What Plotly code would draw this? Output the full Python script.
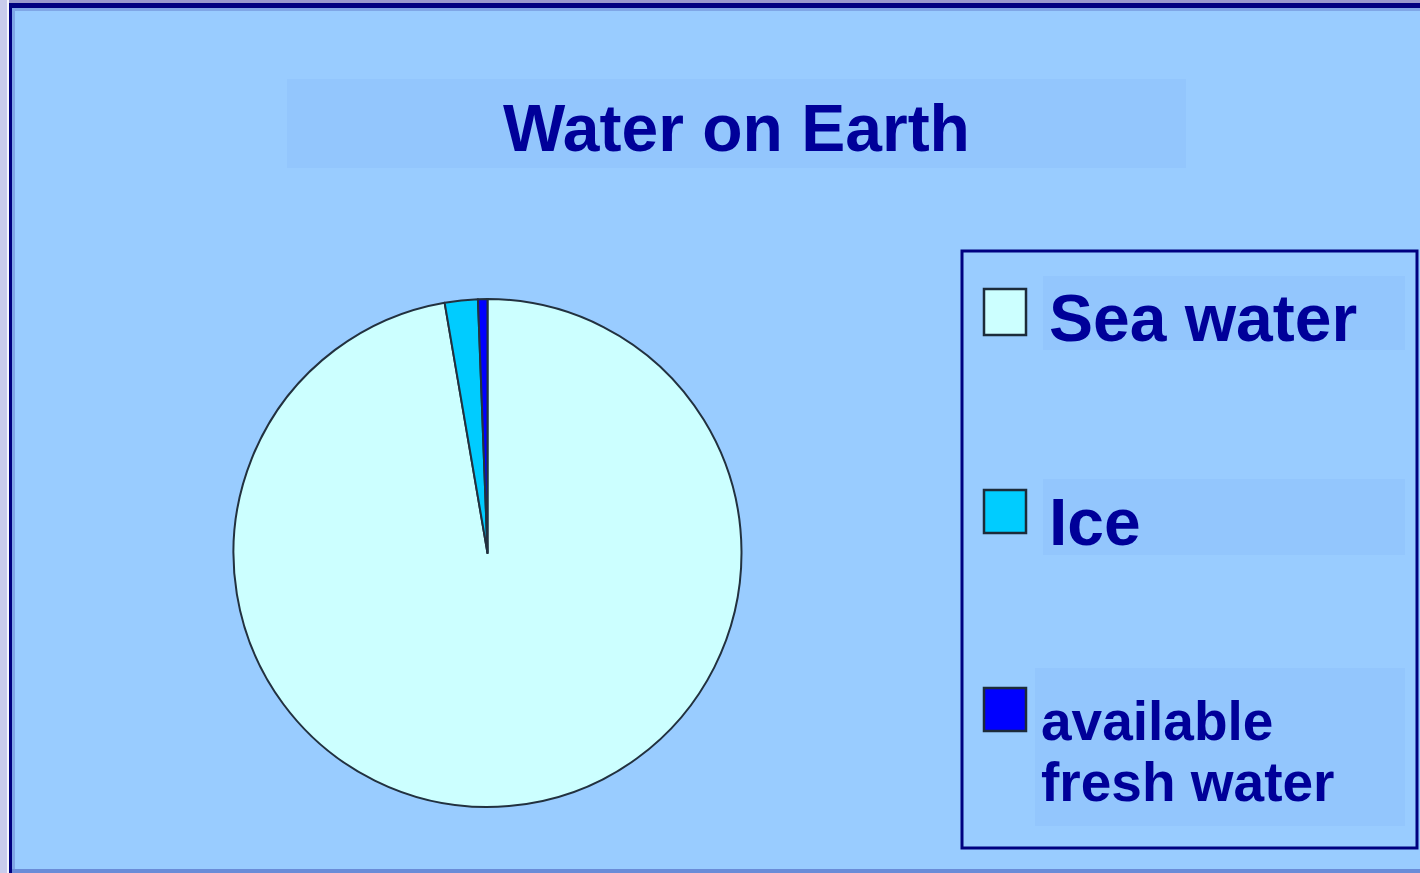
import plotly.graph_objects as go

labels = ["Sea water", "Ice", "available fresh water"]
legend_lines = [["Sea water"], ["Ice"], ["available", "fresh water"]]
values = [97.3, 2.1, 0.6]
colors = ["#CCFFFF", "#00CCFF", "#0000FF"]

W, H = 1420, 873
NAVY = "#000099"
BG = "#99CCFF"
BOX = "#93C6FD"
FONT = "Liberation Sans, Arial, sans-serif"

def px(x):
    return x / W

def py(y):
    return 1 - y / H

fig = go.Figure()
fig.add_trace(go.Pie(
    labels=labels, values=values, sort=False, direction="clockwise", rotation=0,
    marker=dict(colors=colors, line=dict(color="#22313F", width=2)),
    textinfo="none", hoverinfo="label+percent", showlegend=False,
    domain=dict(x=[px(233), px(742)], y=[py(807), py(299)]),
))

shapes = []
def rect(x0, x1, y0, y1, fill, line=None, layer="below"):
    shapes.append(dict(type="rect", xref="paper", yref="paper", x0=px(x0), x1=px(x1),
                       y0=py(y1), y1=py(y0), fillcolor=fill,
                       line=line if line else dict(width=0), layer=layer))

# outer frame
rect(0, 7, 0, H, "#C8CCEC")
rect(7, 9, 0, H, "#F4F6FC")
rect(9, W, 0, 3, "#9999CC")
rect(9, 12, 3, H, "#000080")
rect(9, W, 3, 8, "#000080")
rect(12, 15, 8, H, "#7FA6E6")
rect(12, W, 8, 11, "#7FA6E6")
rect(12, W, 869, H, "#6A8CD8")
# title box
rect(287, 1186, 79, 168, BOX)
# legend box
rect(962, 1417, 251, 848, BG, line=dict(color="#000080", width=3))
# legend text boxes
for x0, x1, y0, y1 in [(1043, 1405, 276, 350), (1043, 1405, 479, 555), (1035, 1405, 668, 826)]:
    rect(x0, x1, y0, y1, BOX)
# legend swatches
for c, (y0, y1) in zip(colors, [(289, 335), (490, 533), (688, 731)]):
    rect(984, 1026, y0, y1, c, line=dict(color="#1C2B3A", width=2.5), layer="above")

annotations = [dict(text="<b>Water on Earth</b>", x=px(736), y=py(128), xref="paper", yref="paper",
                    showarrow=False, xanchor="center", yanchor="middle",
                    font=dict(family=FONT, size=66, color=NAVY))]
line_pos = [[(1047, 318, 66)], [(1047, 522, 66)], [(1039, 721, 55), (1039, 782, 55)]]
for lines, poss in zip(legend_lines, line_pos):
    for t, (x, y, s) in zip(lines, poss):
        annotations.append(dict(text="<b>" + t + "</b>", x=px(x), y=py(y), xref="paper",
                                yref="paper", showarrow=False, xanchor="left", yanchor="middle",
                                font=dict(family=FONT, size=s, color=NAVY)))

fig.update_layout(width=W, height=H, margin=dict(l=0, r=0, t=0, b=0),
                  paper_bgcolor=BG, plot_bgcolor=BG, shapes=shapes, annotations=annotations,
                  showlegend=False)
fig.write_html("out.html", config={"displayModeBar": False},
               post_script="document.body.style.margin='0';document.body.style.padding='0';")
